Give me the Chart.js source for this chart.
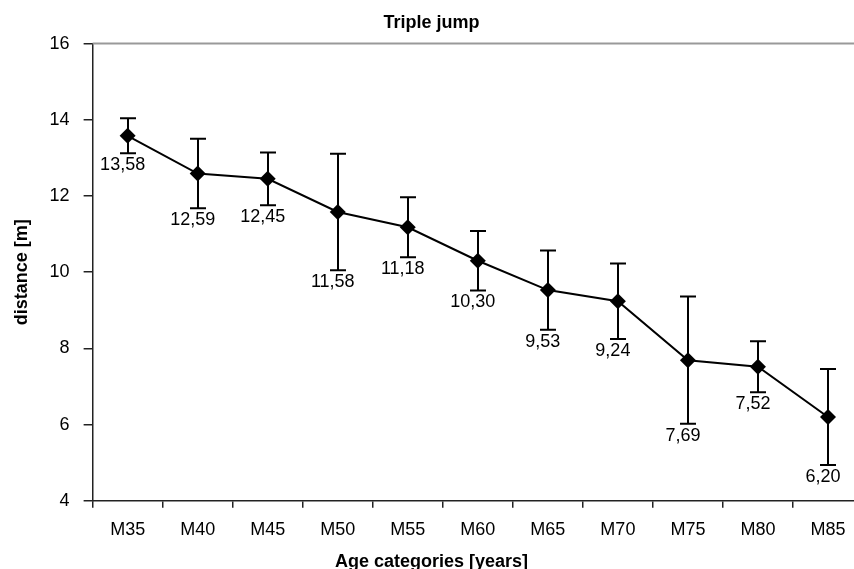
<!DOCTYPE html>
<html><head><meta charset="utf-8">
<script src="https://cdn.jsdelivr.net/npm/chart.js@4.4.1/dist/chart.umd.min.js"></script>
<style>html,body{margin:0;padding:0;background:#fff;overflow:hidden;width:854px;height:569px}canvas{display:block}</style>
</head><body>
<canvas id="c" width="863" height="569"></canvas>
<script>
const categories = ['M35','M40','M45','M50','M55','M60','M65','M70','M75','M80','M85'];
const means = [13.58, 12.59, 12.45, 11.58, 11.18, 10.30, 9.53, 9.24, 7.69, 7.52, 6.20];
const errors = [0.46, 0.91, 0.69, 1.53, 0.79, 0.78, 1.04, 0.99, 1.67, 0.67, 1.26];
const yMin = 4, yMax = 16, yStep = 2;
const chartTitle = 'Triple jump';
const xTitle = 'Age categories [years]';
const yTitle = 'distance [m]';

const FONT = "'Liberation Sans', Arial, sans-serif";
const fmt = v => v.toFixed(2).replace('.', ',');

const errorBarPlugin = {
  id: 'errorBars',
  beforeDatasetsDraw(chart) {
    const {ctx, chartArea, scales: {y}} = chart;
    ctx.save();
    ctx.strokeStyle = '#999';
    ctx.lineWidth = 2;
    ctx.beginPath();
    ctx.moveTo(chartArea.left, chartArea.top);
    ctx.lineTo(chartArea.right, chartArea.top);
    ctx.stroke();
    const meta = chart.getDatasetMeta(0);
    ctx.strokeStyle = '#000';
    ctx.lineWidth = 2;
    meta.data.forEach((pt, i) => {
      const x = Math.round(pt.x);
      const yt = y.getPixelForValue(means[i] + errors[i]);
      const yb = y.getPixelForValue(means[i] - errors[i]);
      ctx.beginPath();
      ctx.moveTo(x, yt); ctx.lineTo(x, yb);
      ctx.moveTo(x - 8, yt); ctx.lineTo(x + 8, yt);
      ctx.moveTo(x - 8, yb); ctx.lineTo(x + 8, yb);
      ctx.stroke();
    });
    ctx.restore();
  },
  afterDatasetsDraw(chart) {
    const {ctx, scales: {y}} = chart;
    const meta = chart.getDatasetMeta(0);
    ctx.save();
    ctx.fillStyle = '#000';
    ctx.font = '18px ' + FONT;
    ctx.textAlign = 'center';
    ctx.textBaseline = 'middle';
    meta.data.forEach((pt, i) => {
      const yb = y.getPixelForValue(means[i] - errors[i]);
      ctx.fillText(fmt(means[i]), pt.x - 5, yb + 12);
    });
    ctx.restore();
  }
};

new Chart(document.getElementById('c').getContext('2d'), {
  type: 'line',
  data: {
    labels: categories,
    datasets: [{
      data: means,
      borderColor: '#000',
      borderWidth: 2,
      pointStyle: 'rectRot',
      pointRadius: 8,
      pointBackgroundColor: '#000',
      pointBorderColor: '#000',
      pointBorderWidth: 0,
      tension: 0,
      fill: false,
      clip: false
    }]
  },
  options: {
    responsive: false,
    animation: false,
    devicePixelRatio: 1,
    layout: {autoPadding: false, padding: {left: 0, right: 0, top: 0, bottom: -4}},
    plugins: {
      legend: {display: false},
      tooltip: {enabled: false},
      title: {display: true, text: chartTitle, color: '#000',
        font: {family: FONT, size: 18, weight: 'bold'}, padding: {top: 12, bottom: 10}},
      subtitle: {display: true, position: 'bottom', text: xTitle, color: '#000',
        font: {family: FONT, size: 18, weight: 'bold'}, padding: {top: 0, bottom: 0}}
    },
    scales: {
      x: {
        type: 'category',
        offset: true,
        grid: {offset: true, drawOnChartArea: false, drawTicks: true, tickLength: 7, color: '#222', lineWidth: 1.5},
        border: {color: '#222', width: 1.5},
        ticks: {color: '#000', font: {family: FONT, size: 18}, padding: 11, maxRotation: 0, autoSkip: false}
      },
      y: {
        min: yMin, max: yMax,
        ticks: {stepSize: yStep, color: '#000', font: {family: FONT, size: 18}, padding: 14},
        grid: {drawOnChartArea: false, tickLength: 9, color: '#222', lineWidth: 1.5},
        border: {color: '#222', width: 1.5},
        title: {display: true, text: yTitle, color: '#000',
          font: {family: FONT, size: 18, weight: 'bold'}, padding: {top: 11, bottom: 3}}
      }
    }
  },
  plugins: [errorBarPlugin]
});
</script>
</body></html>
